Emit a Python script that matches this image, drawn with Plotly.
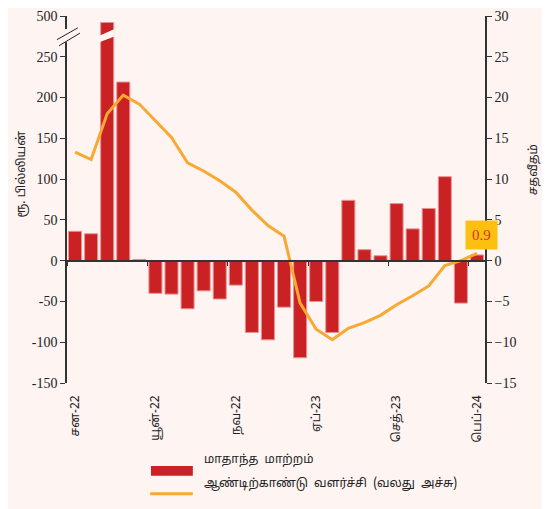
# Monthly change (bars, left axis) and year-on-year growth (line, right axis)
import plotly.graph_objects as go

months = ["2022-01", "2022-02", "2022-03", "2022-04", "2022-05", "2022-06",
          "2022-07", "2022-08", "2022-09", "2022-10", "2022-11", "2022-12",
          "2023-01", "2023-02", "2023-03", "2023-04", "2023-05", "2023-06",
          "2023-07", "2023-08", "2023-09", "2023-10", "2023-11", "2023-12",
          "2024-01", "2024-02"]

monthly_change = [36, 33, 460, 219, 1.5, -40, -41, -59, -37, -47, -30, -88,
                  -97, -57, -119, -50, -88, 74, 13.5, 6, 70, 39, 64, 103,
                  -52, 7]

yoy_growth = [13.3, 12.4, 18.0, 20.3, 19.2, 17.2, 15.1, 12.0, 11.0, 9.8, 8.4, 6.2,
              4.3, 3.0, -5.2, -8.4, -9.7, -8.3, -7.6, -6.7, -5.4, -4.3, -3.1, -0.6,
              0.0, 0.9]

tick_idx = [0, 5, 10, 15, 20, 25]
tick_text = ["சன-22", "யூன்-22", "நவ-22", "ஏப்-23", "செத்-23", "பெப்-24"]

left_ticks = [-150, -100, -50, 0, 50, 100, 150, 200, 250, 500]

BG = "#FEF4F2"
RED = "#C92124"
ORANGE = "#F9A832"
SERIF = "Liberation Serif"
TAMIL = "Noto Sans Tamil, Noto Sans, sans-serif"

BREAK = 250  # values above this are squeezed so that 500 sits at the top


def squeeze(v):
    return v if v <= BREAK else BREAK + (v - BREAK) * 50 / 250


x = list(range(len(months)))

fig = go.Figure()

fig.add_trace(go.Bar(
    x=x, y=[squeeze(v) for v in monthly_change],
    marker=dict(color=RED, line=dict(color="#E99092", width=1)),
    width=0.81, showlegend=False,
))

fig.add_trace(go.Scatter(
    x=x, y=yoy_growth, xaxis="x2", yaxis="y2", mode="lines",
    line=dict(color=ORANGE, width=3), showlegend=False,
))

axis_common = dict(showgrid=False, zeroline=False, automargin=False)

fig.update_layout(
    width=542, height=501,
    margin=dict(l=59, r=65, t=8, b=126),
    paper_bgcolor=BG, plot_bgcolor=BG,
    font=dict(family=SERIF, size=14, color="#222"),
    xaxis=dict(range=[-0.5, 25.5], tickvals=tick_idx, ticktext=tick_text,
               tickangle=-90, ticks="", showline=False, ticklabelstandoff=9,
               tickfont=dict(family=TAMIL, size=12), **axis_common),
    xaxis2=dict(overlaying="x", anchor="free", position=1 / 3,
                range=[-0.5, 25.5], tickvals=[i - 0.5 for i in tick_idx],
                ticks="outside", ticklen=5, tickcolor="#333",
                showticklabels=False, showline=True, linecolor="#333",
                linewidth=1.5, **axis_common),
    yaxis=dict(range=[-150, 300], tickvals=[squeeze(v) for v in left_ticks],
               ticktext=[str(v) for v in left_ticks], showline=True,
               linecolor="#333", linewidth=1.5, ticks="outside", ticklen=5,
               tickcolor="#333", ticklabeloverflow="allow", **axis_common),
    yaxis2=dict(overlaying="y", side="right", anchor="x", range=[-15, 30],
                dtick=5, showline=True, linecolor="#333", linewidth=1.5,
                ticks="outside", ticklen=5, tickcolor="#333",
                ticklabeloverflow="allow", **axis_common),
    bargap=0.19,
)

# axis break marks
fig.add_shape(type="rect", xref="paper", yref="y", x0=-0.006, x1=0.006,
              y0=268, y1=284, fillcolor=BG, line=dict(width=0), layer="above")
fig.add_shape(type="line", xref="paper", yref="y", x0=-0.024, x1=0.026,
              y0=271, y1=285.5, line=dict(color="#222", width=1))
fig.add_shape(type="line", xref="paper", yref="y", x0=-0.019, x1=0.031,
              y0=263.6, y1=279, line=dict(color="#222", width=1))
fig.add_shape(type="path", xref="x", yref="y",
              path="M 1.55,268 L 1.55,276 L 2.45,284 L 2.45,275 Z",
              fillcolor=BG, line=dict(width=0), layer="above")

# last value label
fig.add_annotation(x=x[-1], y=yoy_growth[-1], xref="x2", yref="y2",
                   text=f"{yoy_growth[-1]:.1f}", showarrow=False,
                   xshift=5, yshift=18, bgcolor="#FDC010", borderpad=6,
                   font=dict(family=SERIF, size=15, color="#D9302A"))

# axis titles
fig.add_annotation(x=-0.13, y=0.57, xref="paper", yref="paper",
                   text="ரூ. பில்லியன்", textangle=-90, showarrow=False,
                   font=dict(family=TAMIL, size=12))
fig.add_annotation(x=1.139, y=0.58, xref="paper", yref="paper",
                   text="சதவீதம்", textangle=-90, showarrow=False,
                   font=dict(family=TAMIL, size=12))

# legend drawn by hand
fig.add_shape(type="rect", xref="paper", yref="paper", x0=0.201, x1=0.301,
              y0=-0.253, y1=-0.226, fillcolor=RED, line=dict(width=0))
fig.add_shape(type="line", xref="paper", yref="paper", x0=0.199, x1=0.301,
              y0=-0.302, y1=-0.302, line=dict(color=ORANGE, width=3))
fig.add_annotation(x=0.323, y=-0.234, xref="paper", yref="paper",
                   text="மாதாந்த  மாற்றம்", showarrow=False, xanchor="left",
                   font=dict(family=TAMIL, size=12))
fig.add_annotation(x=0.323, y=-0.300, xref="paper", yref="paper",
                   text="ஆண்டிற்காண்டு  வளர்ச்சி  (வலது  அச்சு)", showarrow=False,
                   xanchor="left", font=dict(family=TAMIL, size=12))

fig.write_html("out.html")
